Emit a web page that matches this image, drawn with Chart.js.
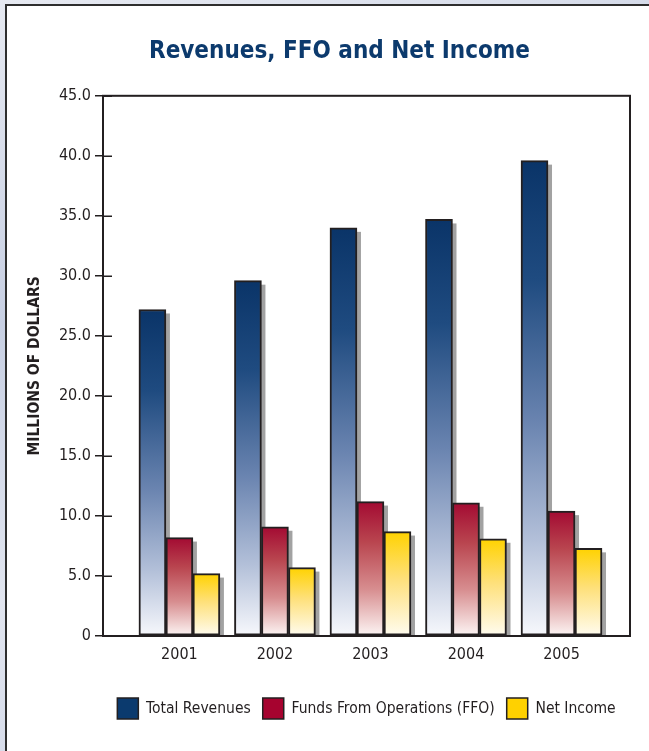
<!DOCTYPE html>
<html>
<head>
<meta charset="utf-8">
<title>Revenues, FFO and Net Income</title>
<script src="https://cdn.jsdelivr.net/npm/chart.js@4.4.0/dist/chart.umd.min.js"></script>
<style>
  html, body { margin: 0; padding: 0; width: 649px; height: 751px; overflow: hidden; }
  body { position: relative; background: linear-gradient(165deg, #e6e9f1 0%, #c8d0e3 35%, #e1e5ef 65%, #ccd3e5 100%); }
  #panel { position: absolute; left: 5px; top: 4px; width: 720px; height: 820px; background: #fff;
           border-left: 2px solid #2e2e2e; border-top: 2px solid #2e2e2e; }
  #chart { position: absolute; left: 0; top: 0; }
</style>
</head>
<body>
<div id="panel"></div>
<canvas id="chart" width="649" height="751"></canvas>
<script>
// millions of dollars per fiscal year
const years = ["2001", "2002", "2003", "2004", "2005"];
const totalRevenues = [27.2, 29.6, 34.0, 34.7, 39.6];
const fundsFromOps  = [8.2, 9.1, 11.2, 11.1, 10.4];
const netIncome     = [5.2, 5.7, 8.7, 8.1, 7.3];
const seriesNames = ["Total Revenues", "Funds From Operations (FFO)", "Net Income"];
const yTicks = [0, 5, 10, 15, 20, 25, 30, 35, 40, 45];

const FONT = "'DejaVu Sans Condensed', 'Liberation Sans Narrow', sans-serif";
const INK = "#231f20";

// solid swatch + top-to-bottom fade for each series
const SWATCH = ["#0b3a6e", "#a6032f", "#ffd100"];
const FADES = [
  [[0, "#0a3468"], [0.25, "#1f4b80"], [0.55, "#6a84b0"], [0.8, "#b3c0d9"], [1, "#f7f8fc"]],
  [[0, "#a30a32"], [0.3, "#b9454f"], [0.65, "#d78d8f"], [1, "#fdf6f5"]],
  [[0, "#ffd200"], [0.45, "#fee07a"], [1, "#fffcf0"]]
];

Chart.defaults.font.family = FONT;
Chart.defaults.color = INK;

function barFill(si) {
  return (c) => {
    if (c.type !== "data" || !c.chart.scales.y) return SWATCH[si];
    const y = c.chart.scales.y;
    const top = y.getPixelForValue(c.parsed.y);
    const base = y.getPixelForValue(0);
    const g = c.chart.ctx.createLinearGradient(0, top, 0, base);
    FADES[si].forEach(([o, col]) => g.addColorStop(o, col));
    return g;
  };
}

const toPoints = arr => arr.map((v, i) => ({ x: i, y: v }));

// grey drop shadow behind every bar, then the boxed plot frame with inward ticks
const barShadows = {
  id: "barShadows",
  beforeDatasetsDraw(chart) {
    const { ctx, chartArea: a } = chart;
    ctx.save();
    ctx.beginPath();
    ctx.rect(a.left, a.top, a.right - a.left, a.bottom - a.top);
    ctx.clip();
    ctx.fillStyle = "#a2a2a2";
    chart.data.datasets.forEach((ds, di) => {
      chart.getDatasetMeta(di).data.forEach(el => {
        const { x, y, base, width } = el.getProps(["x", "y", "base", "width"], true);
        ctx.fillRect(x - width / 2 + 4, y + 4, width, base - y);
      });
    });
    ctx.restore();
  }
};

const plotFrame = {
  id: "plotFrame",
  afterDatasetsDraw(chart) {
    const { ctx, chartArea: a, scales } = chart;
    ctx.save();
    ctx.strokeStyle = INK;
    ctx.lineWidth = 2;
    ctx.strokeRect(a.left, a.top, a.right - a.left, a.bottom - a.top);
    ctx.lineWidth = 1.5;
    scales.y.ticks.forEach(t => {
      const py = Math.round(scales.y.getPixelForValue(t.value)) + 0.25;
      ctx.beginPath();
      ctx.moveTo(a.left, py);
      ctx.lineTo(a.left + 9, py);
      ctx.stroke();
    });
    ctx.restore();
  }
};

new Chart(document.getElementById("chart"), {
  type: "bar",
  data: {
    datasets: [totalRevenues, fundsFromOps, netIncome].map((vals, si) => ({
      label: seriesNames[si],
      data: toPoints(vals),
      backgroundColor: barFill(si),
      borderColor: INK,
      borderWidth: 2,
      borderSkipped: false,
      barThickness: 27
    }))
  },
  options: {
    responsive: false,
    animation: false,
    layout: { padding: { left: 49, right: 19, top: 0, bottom: 22 } },
    plugins: {
      title: {
        display: true,
        text: "Revenues, FFO and Net Income",
        color: "#0c3a6d",
        font: { size: 24, weight: "bold" },
        padding: { top: 37, bottom: 30 }
      },
      legend: {
        position: "bottom",
        fullSize: false,
        labels: {
          boxWidth: 21,
          boxHeight: 21,
          padding: 12,
          color: INK,
          font: { size: 15.5 },
          generateLabels: chart => chart.data.datasets.map((ds, i) => ({
            text: ds.label,
            fillStyle: SWATCH[i],
            strokeStyle: INK,
            lineWidth: 1.5,
            fontColor: INK,
            hidden: false,
            datasetIndex: i
          }))
        }
      },
      tooltip: { enabled: false }
    },
    scales: {
      x: {
        type: "linear",
        min: -0.8,
        max: 4.717,
        offset: false,
        grid: { display: false, drawTicks: false },
        border: { display: false },
        afterBuildTicks: s => { s.ticks = years.map((_, i) => ({ value: i })); },
        afterFit: s => { s.height = 50; },
        ticks: {
          callback: v => years[v],
          color: INK,
          font: { size: 16 },
          padding: 9,
          maxRotation: 0,
          autoSkip: false
        }
      },
      y: {
        min: 0,
        max: 45,
        afterBuildTicks: s => { s.ticks = yTicks.map(v => ({ value: v })); },
        afterFit: s => { s.width = 54; },
        grid: { drawOnChartArea: false, drawTicks: true, tickLength: 8, color: INK, lineWidth: 1.5 },
        border: { display: false },
        ticks: {
          callback: v => (v === 0 ? "0" : v.toFixed(1)),
          color: INK,
          font: { size: 16 },
          padding: 4
        },
        title: {
          display: true,
          text: "MILLIONS OF DOLLARS",
          color: INK,
          font: { size: 15.5, weight: "bold" },
          padding: { top: -23, bottom: 0 }
        }
      }
    }
  },
  plugins: [barShadows, plotFrame]
});
</script>
</body>
</html>
